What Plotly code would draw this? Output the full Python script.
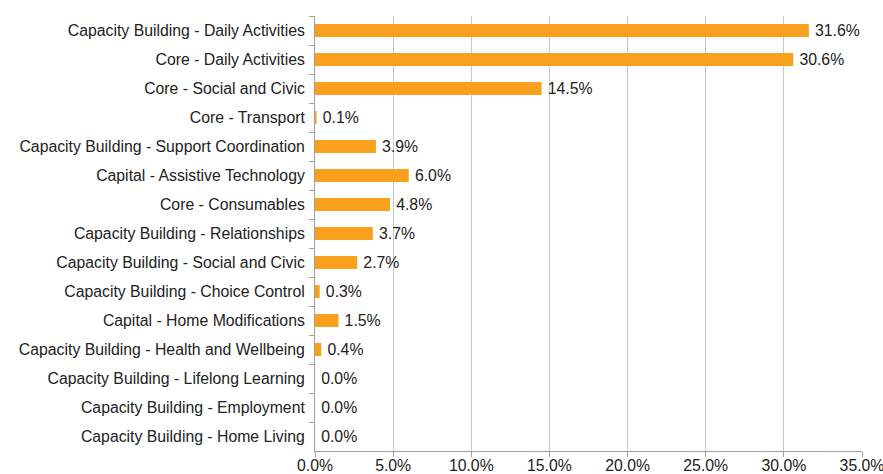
import plotly.graph_objects as go

categories = [
    "Capacity Building - Daily Activities",
    "Core - Daily Activities",
    "Core - Social and Civic",
    "Core - Transport",
    "Capacity Building - Support Coordination",
    "Capital - Assistive Technology",
    "Core - Consumables",
    "Capacity Building - Relationships",
    "Capacity Building - Social and Civic",
    "Capacity Building - Choice Control",
    "Capital - Home Modifications",
    "Capacity Building - Health and Wellbeing",
    "Capacity Building - Lifelong Learning",
    "Capacity Building - Employment",
    "Capacity Building - Home Living",
]
shares = [0.316, 0.306, 0.145, 0.001, 0.039, 0.060, 0.048, 0.037, 0.027, 0.003, 0.015, 0.004, 0.0, 0.0, 0.0]
x_ticks = [0, 0.05, 0.10, 0.15, 0.20, 0.25, 0.30, 0.35]

FONT = "Liberation Sans, Arial, sans-serif"

fig = go.Figure(go.Bar(
    x=shares, y=categories, orientation="h",
    marker=dict(color="#F9A11E", line=dict(width=0)),
    width=0.45,
    text=[f"\u2009{v*100:.1f}%" for v in shares],
    textposition="outside", cliponaxis=False, constraintext="none",
    textfont=dict(family=FONT, size=15.8, color="#222222"),
    hoverinfo="skip",
))
fig.update_layout(
    width=883, height=474,
    margin=dict(l=315, r=21, t=16, b=23, autoexpand=False),
    paper_bgcolor="white", plot_bgcolor="white",
    font=dict(family=FONT, size=15.8, color="#222222"),
    showlegend=False,
)
fig.update_xaxes(
    range=[0, 0.35], tickvals=x_ticks, tickformat=".1%",
    showgrid=True, gridcolor="#C8C8C8", gridwidth=1,
    showline=True, linecolor="#A0A0A0", linewidth=1,
    ticks="outside", ticklen=5, tickcolor="#A0A0A0",
    ticklabelstandoff=-5, ticklabeloverflow="allow",
    zeroline=False, fixedrange=True, automargin=False,
)
fig.update_yaxes(
    autorange="reversed", showline=True, linecolor="#A0A0A0", linewidth=1,
    ticks="outside", ticklen=5, tickcolor="#A0A0A0", tickson="boundaries",
    showgrid=False, ticklabelstandoff=6, automargin=False, fixedrange=True,
)
fig.write_html(
    "out.html",
    config={"displayModeBar": False, "staticPlot": True},
    post_script="document.body.style.margin='0';document.body.style.overflow='hidden';",
)
